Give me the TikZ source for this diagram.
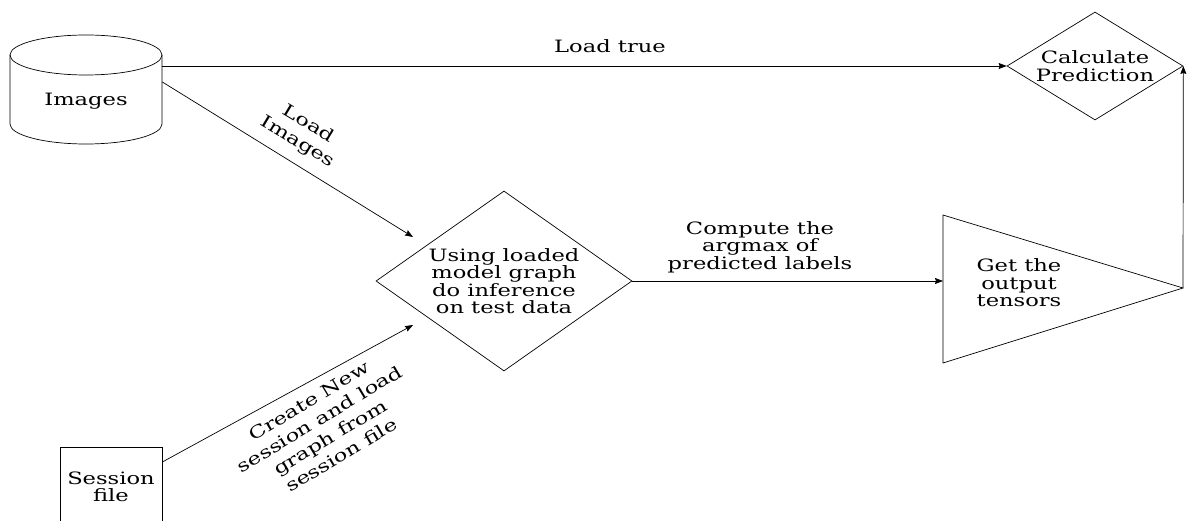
\documentclass[tikz,border=0pt]{standalone}
\usepackage{fontspec}
\setmainfont{DejaVu Serif}[FakeStretch=1.33]
\usetikzlibrary{shapes.geometric,arrows.meta}
\begin{document}
\begin{tikzpicture}[x=1pt,y=-1pt,line width=0.7pt,
  every node/.style={font=\fontsize{17}{17.5}\selectfont,align=center},
  arr/.style={-{Stealth[length=8pt,width=6pt,inset=1pt]}},
  decide/.style={diamond,draw,inner sep=0pt},
  slanted/.style={font=\fontsize{17}{21}\selectfont}]
\useasboundingbox (0,0) rectangle (1191,521);
% image store
\draw (10,55) -- (10,124) arc[start angle=180,end angle=360,x radius=76pt,y radius=20pt] -- (162,55);
\draw (86,55) ellipse [x radius=76pt,y radius=20pt];
\node[minimum width=152pt,minimum height=110pt,inner sep=0pt] (img) at (86,89) {};
\node (imgtxt) at ([yshift=-12pt]img.center) {Images};
\node[draw,minimum width=102pt,minimum height=80pt] (sess) at (111,487) {Session\\file};
\node[decide,minimum width=256pt,minimum height=180pt,aspect=1.42] (infer) at (504,281)
  {Using loaded\\model graph\\do inference\\on test data};
\node[decide,minimum width=176pt,minimum height=108pt,aspect=1.63] (calc) at (1095,66)
  {Calculate\\Prediction};
% output triangle
\draw (943,215) -- (1183,288) -- (943,363) -- cycle;
\coordinate (outw) at (943,281);
\coordinate (outtip) at (1183,288);
\node (out) at (1019,283) {Get the\\output\\tensors};
% loose ends near the inference box
\coordinate (inA) at (413,237);
\coordinate (inB) at (413,325);
\draw[arr] (img.east |- calc.west) -- (calc.west);
\node (loadtrue) at (610,46) {Load true};
\draw[arr] ([yshift=7pt]img.east) -- (inA);
\node[slanted,rotate=-31] (loadimg) at (303,133) {Load\\Images};
\draw[arr] ([yshift=25pt]sess.east) -- (inB);
\node[slanted,rotate=31] (newsess) at (325,428) {Create New\\session and load\\graph from\\session file};
\draw[arr] (infer.east) -- (outw);
\node (argmax) at (760,247) {Compute the\\argmax of\\predicted labels};
\draw[arr] (outtip) -- (calc.east);
\end{tikzpicture}
\end{document}
